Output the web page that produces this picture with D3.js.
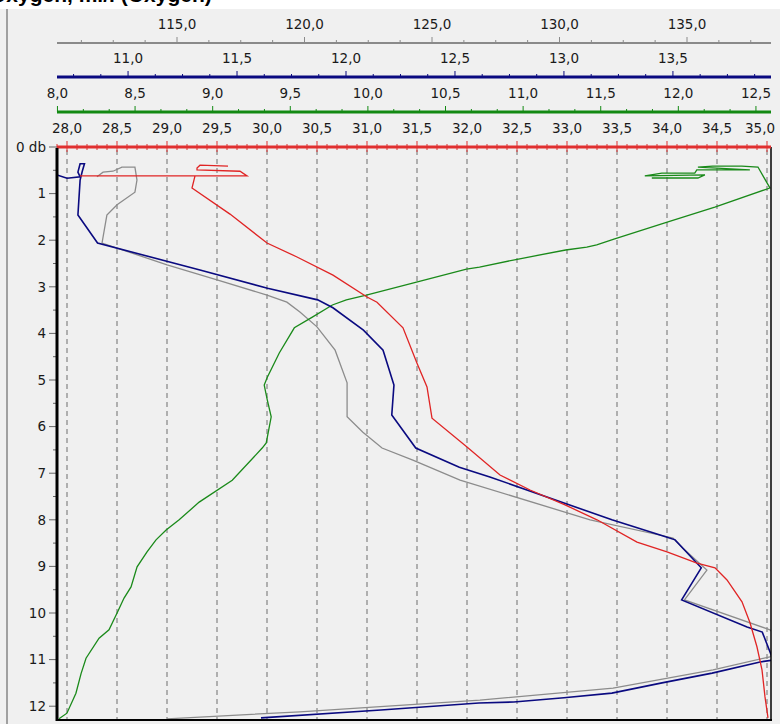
<!DOCTYPE html>
<html>
<head>
<meta charset="utf-8">
<script src="https://cdn.jsdelivr.net/npm/d3@7"></script>
<style>
  html, body { margin: 0; padding: 0; background: #f0f0f0; }
  svg { display: block; }
  text { font-family: "DejaVu Sans", sans-serif; }
</style>
</head>
<body>
<svg id="chart" width="780" height="724"></svg>
<script>
// ---- Profile data: [value, depth (db)] ----
const salinity = [
  [29.61, 0.41], [29.33, 0.39], [29.30, 0.45], [29.30, 0.49], [29.73, 0.52], [29.80, 0.62],
  [28.13, 0.62], [29.28, 0.62], [29.25, 0.88], [29.63, 1.44], [30.00, 2.06], [30.30, 2.36],
  [30.66, 2.75], [31.00, 3.22], [31.10, 3.33], [31.36, 3.88], [31.50, 4.64], [31.60, 5.15],
  [31.65, 5.82], [32.00, 6.44], [32.33, 7.04], [32.63, 7.36], [32.98, 7.68], [33.30, 8.00],
  [33.70, 8.48], [34.00, 8.69], [34.30, 8.93], [34.48, 9.03], [34.60, 9.29], [34.75, 9.76],
  [34.83, 10.21], [34.90, 10.73], [34.95, 11.22], [34.98, 11.80], [35.01, 12.25]
];

const temperature = [
  [11.829, 0.665], [12.126, 0.665], [12.171, 0.60], [11.784, 0.62], [11.894, 0.56], [12.106, 0.56],
  [12.119, 0.49], [12.461, 0.49], [12.126, 0.43], [12.222, 0.41], [12.409, 0.41], [12.513, 0.43],
  [12.590, 0.88], [12.235, 1.29], [11.913, 1.63], [11.590, 1.97], [11.474, 2.10], [11.410, 2.15],
  [11.274, 2.21], [10.945, 2.42], [10.719, 2.58], [10.635, 2.62], [10.313, 2.90], [9.990, 3.18],
  [9.861, 3.28], [9.771, 3.39], [9.642, 3.65], [9.526, 3.88], [9.429, 4.42], [9.352, 4.94],
  [9.332, 5.11], [9.352, 5.43], [9.377, 5.79], [9.345, 6.35], [9.319, 6.46], [9.126, 7.15],
  [8.913, 7.62], [8.784, 8.00], [8.700, 8.22], [8.635, 8.43], [8.577, 8.69], [8.513, 9.01],
  [8.474, 9.44], [8.429, 9.68], [8.384, 10.00], [8.332, 10.36], [8.268, 10.54], [8.184, 10.97],
  [8.152, 11.30], [8.119, 11.72], [8.061, 12.15], [8.010, 12.27]
];

const oxygenMg = [
  [10.674, 0.60], [10.72, 0.67], [10.78, 0.64], [10.77, 0.54], [10.78, 0.36], [10.80, 0.36],
  [10.79, 0.52], [10.78, 0.71], [10.77, 1.46], [10.86, 2.06], [11.33, 2.64], [11.64, 3.03],
  [11.87, 3.28], [11.94, 3.45], [12.08, 3.93], [12.17, 4.36], [12.22, 5.11], [12.21, 5.75],
  [12.32, 6.46], [12.52, 6.87], [12.66, 7.08], [13.22, 8.00], [13.47, 8.37], [13.51, 8.43],
  [13.63, 9.03], [13.54, 9.72], [13.84, 10.30], [13.91, 10.41], [13.96, 11.01], [13.90, 11.05],
  [13.68, 11.29], [13.45, 11.50], [13.22, 11.72], [13.00, 11.82], [12.77, 11.91], [12.61, 11.93],
  [12.16, 12.08], [11.61, 12.25]
];

const oxygenSat = [
  [111.86, 0.64], [112.10, 0.54], [112.49, 0.52], [112.84, 0.43], [113.08, 0.43], [113.35, 0.43],
  [113.43, 0.71], [113.35, 0.97], [112.65, 1.24], [112.25, 1.46], [112.06, 2.06], [114.61, 2.53],
  [116.57, 2.85], [118.53, 3.18], [119.31, 3.33], [119.82, 3.54], [120.49, 3.86], [121.20, 4.36],
  [121.67, 5.06], [121.67, 5.79], [122.29, 6.12], [123.04, 6.46], [124.25, 6.72], [126.10, 7.15],
  [131.20, 8.00], [134.45, 8.39], [134.84, 8.61], [135.78, 9.08], [134.90, 9.72], [138.25, 10.36],
  [138.90, 10.68], [138.25, 10.94], [136.02, 11.22], [132.10, 11.61], [126.88, 11.87],
  [119.82, 12.12], [114.61, 12.27]
];

// ---- Axis ticks ----
const satTicks  = [115, 120, 125, 130, 135];
const mgTicks   = [11.0, 11.5, 12.0, 12.5, 13.0, 13.5];
const tempTicks = [8.0, 8.5, 9.0, 9.5, 10.0, 10.5, 11.0, 11.5, 12.0, 12.5];
const salTicks  = [28.0, 28.5, 29.0, 29.5, 30.0, 30.5, 31.0, 31.5, 32.0, 32.5, 33.0, 33.5, 34.0, 34.5, 35.0];
const depthTicks = [0, 1, 2, 3, 4, 5, 6, 7, 8, 9, 10, 11, 12];
const depthLabels = ["0 db", "1", "2", "3", "4", "5", "6", "7", "8", "9", "10", "11", "12"];
const titleText = "Oxygen, ml/l (Oxygen)";

// ---- Layout ----
const svg = d3.select("#chart");
const W = 780, H = 724;
const plot = { left: 57, right: 771, top: 147, bottom: 720 };

const y = d3.scaleLinear().domain([0, 12.296]).range([plot.top, plot.bottom]);
const xSat  = d3.scaleLinear().domain([110.294, 138.294]).range([plot.left, plot.right]);
const xMg   = d3.scaleLinear().domain([10.674, 13.950]).range([plot.left, plot.right]);
const xTemp = d3.scaleLinear().domain([7.997, 12.597]).range([plot.left, plot.right]);
const xSal  = d3.scaleLinear().domain([27.9, 35.04]).range([plot.left, plot.right]);

const fmt = v => d3.format(".1f")(v).replace(".", ",");

// background, white header strip, window edge
svg.append("rect").attr("width", W).attr("height", H).attr("fill", "#f0f0f0");
svg.append("rect").attr("width", W).attr("height", 9).attr("fill", "#ffffff");
svg.append("text").attr("x", -10).attr("y", 2)
  .attr("font-size", 21).attr("font-weight", "bold").attr("fill", "#000")
  .style("font-family", "'Liberation Sans', Arial, sans-serif")
  .text(titleText);
svg.append("rect").attr("x", 6).attr("y", 9).attr("width", 2).attr("height", H - 9).attr("fill", "#a0a0a0");

// vertical dashed grid from the salinity ticks
svg.append("g").selectAll("line").data(salTicks).join("line")
  .attr("x1", d => xSal(d)).attr("x2", d => xSal(d))
  .attr("y1", plot.top + 3).attr("y2", plot.bottom)
  .attr("stroke", "#6e6e6e").attr("stroke-width", 1).attr("stroke-dasharray", "5,4");

// profiles, clipped to the plot frame
svg.append("clipPath").attr("id", "clip").append("rect")
  .attr("x", plot.left).attr("y", plot.top)
  .attr("width", plot.right - plot.left).attr("height", plot.bottom - plot.top);
const series = svg.append("g").attr("clip-path", "url(#clip)");
const profile = (xs) => d3.line().x(d => xs(d[0])).y(d => y(d[1]));
series.append("path").datum(oxygenSat).attr("d", profile(xSat))
  .attr("fill", "none").attr("stroke", "#8c8c8c").attr("stroke-width", 1.3);
series.append("path").datum(temperature).attr("d", profile(xTemp))
  .attr("fill", "none").attr("stroke", "#1a8a1a").attr("stroke-width", 1.3);
series.append("path").datum(oxygenMg).attr("d", profile(xMg))
  .attr("fill", "none").attr("stroke", "#0a0a80").attr("stroke-width", 1.6);
series.append("path").datum(salinity).attr("d", profile(xSal))
  .attr("fill", "none").attr("stroke", "#e02424").attr("stroke-width", 1.3);

// frame
svg.append("line").attr("x1", plot.right).attr("x2", plot.right).attr("y1", plot.top).attr("y2", plot.bottom)
  .attr("stroke", "#000").attr("stroke-width", 1.5);
svg.append("line").attr("x1", plot.left).attr("x2", plot.right + 1).attr("y1", plot.bottom).attr("y2", plot.bottom)
  .attr("stroke", "#000").attr("stroke-width", 2);

// top axes
function topAxis(scale, yPos, color, lineW, majors, minorStep, bothSides) {
  const g = svg.append("g");
  const [d0, d1] = scale.domain();
  const first = Math.ceil((d0 - 1e-9) / minorStep) * minorStep;
  const minors = d3.range(first, d1 + 1e-9, minorStep)
    .filter(v => !majors.some(m => Math.abs(m - v) < 1e-6));
  g.selectAll(".minor").data(minors).join("line")
    .attr("x1", d => scale(d)).attr("x2", d => scale(d))
    .attr("y1", yPos - 3).attr("y2", bothSides ? yPos + 3 : yPos)
    .attr("stroke", color).attr("stroke-width", 1);
  g.selectAll(".major").data(majors).join("line")
    .attr("x1", d => scale(d)).attr("x2", d => scale(d))
    .attr("y1", yPos - 6).attr("y2", bothSides ? yPos + 5 : yPos)
    .attr("stroke", color).attr("stroke-width", 1);
  g.append("line").attr("x1", plot.left).attr("x2", plot.right)
    .attr("y1", yPos).attr("y2", yPos).attr("stroke", color).attr("stroke-width", lineW);
  g.selectAll("text").data(majors).join("text")
    .attr("x", d => Math.min(scale(d), W - 20))
    .attr("y", yPos - 14)
    .attr("text-anchor", "middle")
    .attr("font-size", 13.5).attr("fill", "#1a1a1a")
    .text(fmt);
}
topAxis(xSat, 43, "#8a8a8a", 2.2, satTicks, 1.25, false);
topAxis(xMg, 77, "#0a0a80", 2.8, mgTicks, 0.125, false);
topAxis(xTemp, 112, "#138a13", 3, tempTicks, 0.5 / 3, false);
topAxis(xSal, 147, "#e03030", 3, salTicks, 0.1, true);

// depth axis
const yg = svg.append("g");
yg.selectAll(".minor").data(d3.range(0.5, 12.3, 1)).join("line")
  .attr("x1", plot.left - 4).attr("x2", plot.left)
  .attr("y1", d => y(d)).attr("y2", d => y(d))
  .attr("stroke", "#666").attr("stroke-width", 1);
yg.selectAll(".major").data(depthTicks).join("line")
  .attr("x1", plot.left - 8).attr("x2", plot.left)
  .attr("y1", d => y(d)).attr("y2", d => y(d))
  .attr("stroke", "#666").attr("stroke-width", 1);
yg.append("line").attr("x1", plot.left).attr("x2", plot.left)
  .attr("y1", plot.top + 1).attr("y2", plot.bottom + 1)
  .attr("stroke", "#000").attr("stroke-width", 3);
yg.selectAll("text").data(depthTicks).join("text")
  .attr("x", plot.left - 11).attr("y", d => y(d))
  .attr("dy", "0.36em").attr("text-anchor", "end")
  .attr("font-size", 13.5).attr("fill", "#1a1a1a")
  .text((d, i) => depthLabels[i]);
</script>
</body>
</html>
